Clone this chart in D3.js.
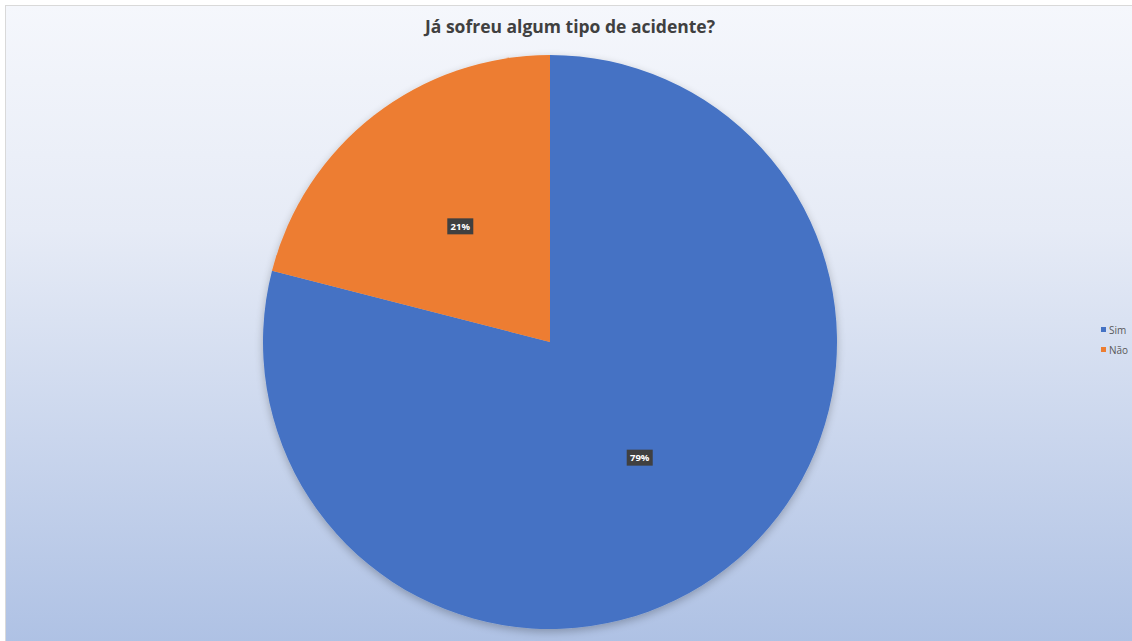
<!DOCTYPE html>
<html>
<head>
<meta charset="utf-8">
<script src="https://cdn.jsdelivr.net/npm/d3@7"></script>
<style>
  html, body { margin: 0; padding: 0; background: #ffffff; }
  svg { display: block; }
</style>
</head>
<body>
<svg id="chart" width="1132" height="641"></svg>
<script>
// Survey answers: "Já sofreu algum tipo de acidente?"
const categories = ["Sim", "Não"];
const shares = [79, 21];
const colors = ["#4472c4", "#ed7d31"];
const title = "Já sofreu algum tipo de acidente?";

const W = 1132, H = 641;
const svg = d3.select("#chart");
const defs = svg.append("defs");

// Panel background: soft vertical gradient
const bg = defs.append("linearGradient")
  .attr("id", "panelFill").attr("x1", 0).attr("y1", 0).attr("x2", 0).attr("y2", 1);
bg.append("stop").attr("offset", "0%").attr("stop-color", "#f5f7fc");
bg.append("stop").attr("offset", "35%").attr("stop-color", "#e6ebf6");
bg.append("stop").attr("offset", "100%").attr("stop-color", "#aec1e4");

const shadow = defs.append("filter").attr("id", "pieShadow")
  .attr("x", "-10%").attr("y", "-10%").attr("width", "120%").attr("height", "125%");
shadow.append("feGaussianBlur").attr("in", "SourceAlpha").attr("stdDeviation", 4);
shadow.append("feOffset").attr("dx", 0).attr("dy", 3).attr("result", "b");
shadow.append("feComponentTransfer").append("feFuncA").attr("type", "linear").attr("slope", 0.25);
const merge = shadow.append("feMerge");
merge.append("feMergeNode");
merge.append("feMergeNode").attr("in", "SourceGraphic");

svg.append("rect")
  .attr("x", 5.5).attr("y", 5.5).attr("width", W).attr("height", H)
  .attr("fill", "url(#panelFill)")
  .attr("stroke", "#d9d9d9").attr("stroke-width", 1);

svg.append("text")
  .attr("x", 570).attr("y", 33)
  .attr("text-anchor", "middle")
  .attr("font-family", "'Open Sans', sans-serif")
  .attr("font-weight", "bold")
  .attr("font-size", 17.5)
  .attr("fill", "#404040")
  .text(title);

// Pie
const cx = 550, cy = 342, R = 287;
const data = categories.map((c, i) => ({ cat: c, value: shares[i], color: colors[i] }));
const pie = d3.pie().sort(null).value(d => d.value);
const arcs = pie(data);
const arc = d3.arc().innerRadius(0).outerRadius(R);
const labelArc = d3.arc().innerRadius(R * 0.51).outerRadius(R * 0.51);

const g = svg.append("g").attr("transform", `translate(${cx},${cy})`);
g.append("g").attr("filter", "url(#pieShadow)")
  .selectAll("path").data(arcs).join("path")
  .attr("d", arc)
  .attr("fill", d => d.data.color);

// Data labels in dark boxes
const lab = g.selectAll("g.lab").data(arcs).join("g")
  .attr("class", "lab")
  .attr("transform", d => `translate(${labelArc.centroid(d)})`);
lab.append("rect")
  .attr("x", -13).attr("y", -8).attr("width", 26).attr("height", 16)
  .attr("fill", "#404040");
lab.append("text")
  .attr("text-anchor", "middle").attr("dy", "0.35em")
  .attr("font-family", "'Open Sans', sans-serif")
  .attr("font-weight", "bold").attr("font-size", 9.5)
  .attr("fill", "#ffffff")
  .text(d => d.data.value + "%");

// Legend
const legend = svg.append("g").attr("transform", "translate(1101,330)");
const item = legend.selectAll("g").data(data).join("g")
  .attr("transform", (d, i) => `translate(0,${i * 20})`);
item.append("rect").attr("x", 0).attr("y", -3).attr("width", 5).attr("height", 5)
  .attr("fill", d => d.color);
item.append("text").attr("x", 8).attr("y", 0).attr("dy", "0.35em")
  .attr("font-family", "'Open Sans', sans-serif").attr("font-size", 10)
  .attr("fill", "#595959")
  .text(d => d.cat);
</script>
</body>
</html>
